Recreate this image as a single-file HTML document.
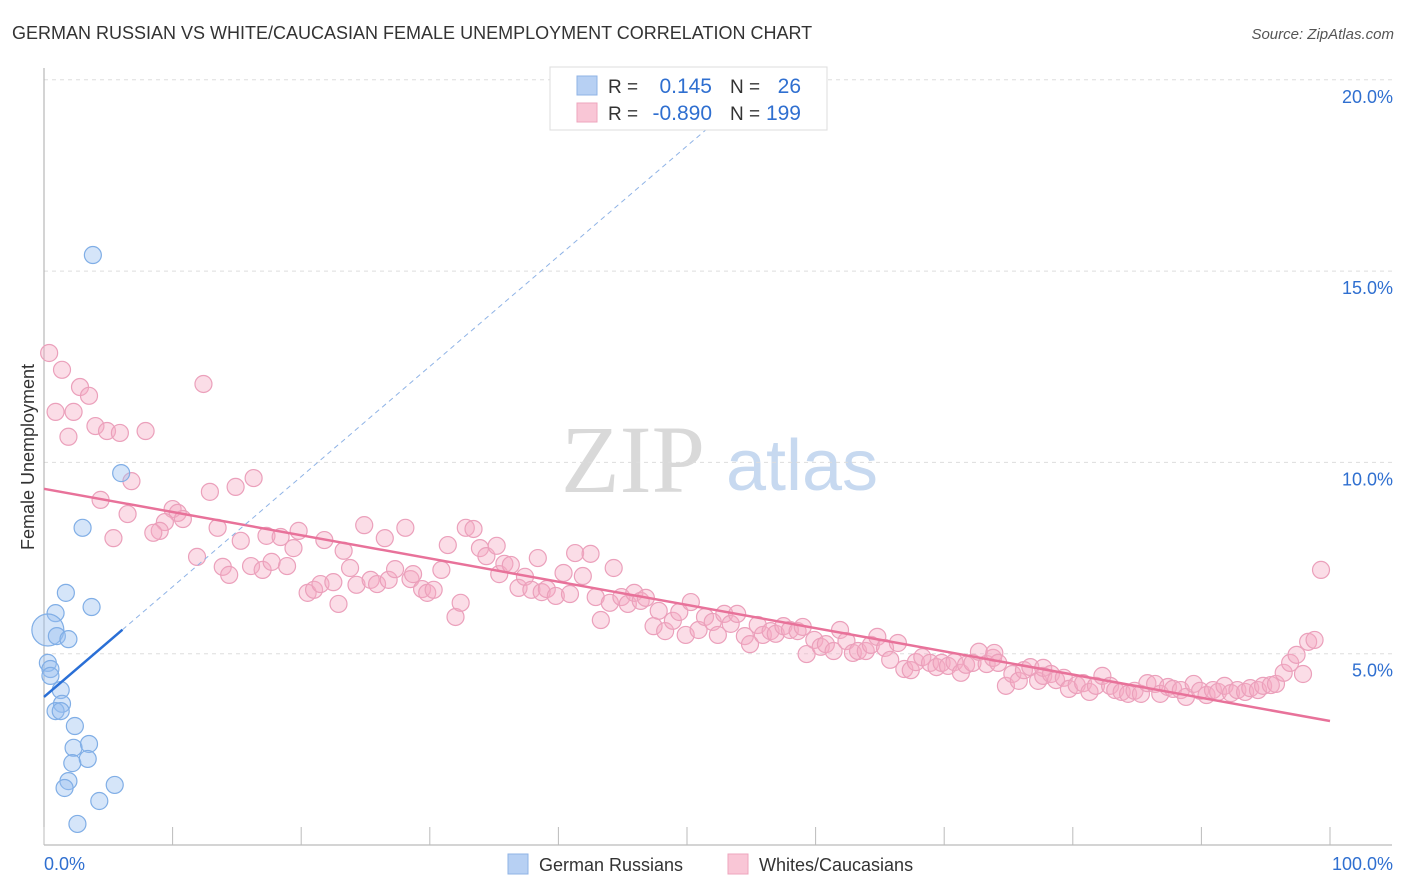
<!DOCTYPE html>
<html><head><meta charset="utf-8"><style>
body{margin:0;background:#fff;font-family:"Liberation Sans",sans-serif}
svg{display:block}
</style></head><body>
<svg id="chart" width="1406" height="892">
<text x="12" y="39" font-size="18" fill="#333">GERMAN RUSSIAN VS WHITE/CAUCASIAN FEMALE UNEMPLOYMENT CORRELATION CHART</text>
<text x="1394" y="39" font-size="15" fill="#555" font-style="italic" text-anchor="end">Source: ZipAtlas.com</text>
<text x="34" y="457" font-size="18" fill="#333" text-anchor="middle" transform="rotate(-90 34 457)">Female Unemployment</text>
<g>
<text x="633" y="492" font-size="96" fill="#d9d9d9" font-family="Liberation Serif,serif" text-anchor="middle">ZIP</text>
<text x="802" y="490" font-size="72" fill="#c7d9f0" text-anchor="middle">atlas</text>
</g>
<g id="grid"></g><g id="axes"></g><g id="marks"></g>
<g>
<rect x="550" y="67" width="277" height="63" fill="#fff" stroke="#ddd"/>
<rect x="577" y="76" width="20" height="19" fill="#b7d0f3" stroke="#8fb3e6"/>
<rect x="577" y="103" width="20" height="19" fill="#f9c6d6" stroke="#eea5bd"/>
<text x="608" y="93" font-size="19" fill="#333">R =</text><text x="712" y="93" font-size="21" fill="#2f6fd0" text-anchor="end">0.145</text>
<text x="730" y="93" font-size="19" fill="#333">N =</text><text x="801" y="93" font-size="21" fill="#2f6fd0" text-anchor="end">26</text>
<text x="608" y="120" font-size="19" fill="#333">R =</text><text x="712" y="120" font-size="21" fill="#2f6fd0" text-anchor="end">-0.890</text>
<text x="730" y="120" font-size="19" fill="#333">N =</text><text x="801" y="120" font-size="21" fill="#2f6fd0" text-anchor="end">199</text>
</g>
<g>
<rect x="508" y="854" width="20" height="20" fill="#b7d0f3" stroke="#8fb3e6"/>
<text x="539" y="871" font-size="18" fill="#333">German Russians</text>
<rect x="728" y="854" width="20" height="20" fill="#f9c6d6" stroke="#eea5bd"/>
<text x="759" y="871" font-size="18" fill="#333">Whites/Caucasians</text>
</g>
</svg>
<script>
const xTicks=[0,10,20,30,40,50,60,70,80,90,100];
const yTicks=[5,10,15,20];
const blueX=[3.8,6.0,3.0,1.7,3.7,0.9,0.3,1.0,1.9,0.3,0.5,0.5,1.3,1.4,0.9,1.3,2.4,2.3,3.5,2.2,3.4,1.9,1.6,5.5,4.3,2.6];
const blueY=[15.42,9.72,8.29,6.59,6.22,6.06,5.62,5.46,5.38,4.76,4.60,4.42,4.05,3.69,3.50,3.50,3.11,2.54,2.64,2.14,2.25,1.67,1.49,1.57,1.15,0.55];
const pinkX=[0.4,1.4,2.8,3.5,0.9,2.3,1.9,4.0,4.9,5.9,7.9,12.4,4.4,6.8,6.5,5.4,10.0,10.4,9.4,9.0,8.5,10.8,12.9,14.9,16.3,13.5,15.3,11.9,13.9,14.4,16.1,17.0,17.3,17.7,18.4,19.4,19.8,18.9,20.5,21.0,21.5,21.8,22.5,22.9,23.8,23.3,24.3,24.9,25.4,25.9,26.5,26.8,27.3,28.1,28.5,28.7,29.4,29.8,30.3,30.9,31.4,32.0,32.4,32.8,33.4,33.9,34.4,35.2,35.4,35.8,36.3,36.9,37.4,37.9,38.4,38.7,39.1,39.8,40.4,40.9,41.3,41.9,42.5,42.9,43.3,44.0,44.3,44.9,45.4,45.9,46.4,46.8,47.4,47.8,48.3,48.9,49.4,49.9,50.3,50.9,51.4,52.0,52.4,52.9,53.4,53.9,54.5,54.9,55.5,55.9,56.5,56.9,57.5,58.0,58.6,59.0,59.3,59.9,60.4,60.8,61.4,61.9,62.4,62.9,63.3,63.9,64.3,64.8,65.4,65.8,66.4,66.9,67.4,67.8,68.3,68.9,69.4,69.8,70.3,70.8,71.3,71.7,72.2,72.7,73.3,73.8,73.9,74.2,74.8,75.3,75.8,76.2,76.7,77.3,77.7,77.7,78.3,78.7,79.3,79.7,80.3,80.8,81.3,81.8,82.3,82.9,83.3,83.8,84.3,84.8,85.3,85.8,86.4,86.8,87.4,87.8,88.4,88.8,89.4,89.9,90.4,90.9,91.3,91.8,92.3,92.8,93.4,93.8,94.4,94.8,95.4,95.8,96.4,96.9,97.4,97.9,98.3,98.8,99.3];
const pinkY=[12.86,12.42,11.97,11.74,11.32,11.32,10.67,10.95,10.82,10.77,10.82,12.05,9.02,9.51,8.65,8.02,8.78,8.68,8.44,8.21,8.16,8.52,9.23,9.36,9.59,8.29,7.95,7.53,7.27,7.06,7.29,7.19,8.08,7.40,8.05,7.76,8.21,7.29,6.59,6.67,6.82,7.97,6.87,6.30,7.24,7.69,6.80,8.36,6.93,6.82,8.02,6.93,7.21,8.29,6.95,7.08,6.69,6.59,6.67,7.19,7.84,5.96,6.33,8.29,8.26,7.76,7.55,7.82,7.08,7.35,7.32,6.72,7.01,6.67,7.50,6.61,6.69,6.51,7.11,6.56,7.63,7.03,7.61,6.48,5.88,6.33,7.24,6.48,6.30,6.59,6.38,6.46,5.72,6.12,5.59,5.86,6.09,5.49,6.35,5.62,5.96,5.83,5.49,6.04,5.78,6.04,5.46,5.25,5.75,5.49,5.59,5.52,5.72,5.62,5.59,5.70,4.99,5.36,5.18,5.25,5.07,5.62,5.33,5.02,5.07,5.07,5.23,5.44,5.15,4.84,5.28,4.60,4.57,4.78,4.91,4.76,4.65,4.76,4.68,4.78,4.50,4.71,4.76,5.05,4.73,4.89,5.02,4.76,4.16,4.47,4.29,4.57,4.65,4.29,4.42,4.63,4.47,4.31,4.37,4.08,4.18,4.23,4.00,4.16,4.42,4.16,4.05,4.00,3.95,4.03,3.95,4.23,4.21,3.95,4.13,4.08,4.05,3.87,4.21,4.03,3.92,4.05,4.00,4.16,3.97,4.05,4.00,4.10,4.05,4.16,4.18,4.21,4.50,4.76,4.97,4.47,5.31,5.36,7.19];
const pinkTrend=[9.31,3.24];
const blueTrend=[3.87,0.288];
const X0=44,X1=1330,Y0=845,YS=38.26;
const sx=v=>X0+(X1-X0)*v/100, sy=v=>Y0-v*YS;
const NS='http://www.w3.org/2000/svg';
function mk(t,a,p){const e=document.createElementNS(NS,t);for(const k in a)e.setAttribute(k,a[k]);p.appendChild(e);return e;}
const grid=document.getElementById('grid'),axes=document.getElementById('axes'),marks=document.getElementById('marks');
yTicks.forEach(v=>{
 const l=mk('line',{x1:X0,x2:1392,y1:sy(v),y2:sy(v),stroke:'#ddd','stroke-dasharray':'4 4'},grid);
 
 
 const t=mk('text',{x:1393,y:sy(v)+23,'font-size':18,fill:'#2f6fd0','text-anchor':'end'},axes);t.textContent=v.toFixed(1)+'%';
 
 
});
const ya=mk('line',{x1:X0,x2:X0,y1:68,y2:Y0,stroke:'#aaa'},axes);


const xa=mk('line',{x1:X0,x2:1392,y1:Y0,y2:Y0,stroke:'#aaa'},axes);


xTicks.forEach(v=>{
 const t=mk('line',{x1:sx(v),x2:sx(v),y1:827,y2:Y0,stroke:'#bbb'},axes);
 
 
});
[[0,'start',44],[100,'end',1393]].forEach(([v,a,x])=>{
 const t=mk('text',{x:x,y:870,'font-size':18,fill:'#2f6fd0','text-anchor':a},axes);t.textContent=v.toFixed(1)+'%';
 
 
});
pinkX.forEach((v,i)=>{
 const c=mk('circle',{cx:sx(v),cy:sy(pinkY[i]),r:8.5,fill:'rgba(246,170,196,0.4)',stroke:'#eba0bb','stroke-width':1.2},marks);
 
 
});
blueX.forEach((v,i)=>{
 const c=mk('circle',{cx:sx(v),cy:sy(blueY[i]),r:(i==6?16:8.5),fill:'rgba(150,190,240,0.4)',stroke:'#80aee6','stroke-width':1.2},marks);
 
 
});
const pt=mk('line',{x1:sx(0),y1:sy(pinkTrend[0]),x2:sx(100),y2:sy(pinkTrend[1]),stroke:'#e8729a','stroke-width':2.5},marks);


const bxEnd=6.1;
const bt=mk('line',{x1:sx(0),y1:sy(blueTrend[0]),x2:sx(bxEnd),y2:sy(blueTrend[0]+blueTrend[1]*bxEnd),stroke:'#2a6fd6','stroke-width':2.5},marks);


const yTopVal=20.3;
const xTop=(yTopVal-blueTrend[0])/blueTrend[1];
const bd=mk('line',{x1:sx(bxEnd),y1:sy(blueTrend[0]+blueTrend[1]*bxEnd),x2:sx(xTop),y2:sy(yTopVal),stroke:'#8fb3e6','stroke-width':1,'stroke-dasharray':'5 4'},marks);


</script>
</body></html>
